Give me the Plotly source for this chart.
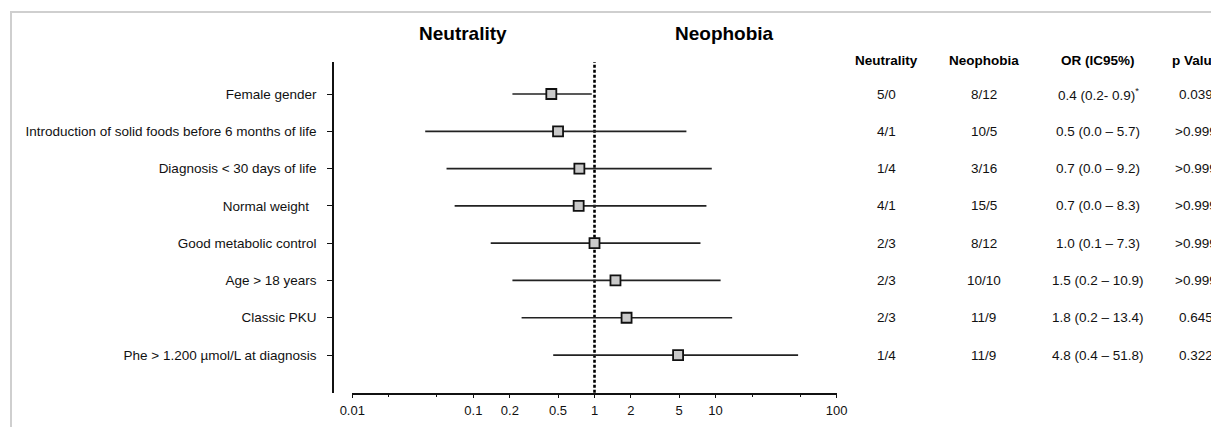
import plotly.graph_objects as go

# ---------------- data ----------------
labels = [
    "Female gender",
    "Introduction of solid foods before 6 months of life",
    "Diagnosis < 30 days of life",
    "Normal weight  ",
    "Good metabolic control",
    "Age > 18 years",
    "Classic PKU",
    "Phe > 1.200 µmol/L at diagnosis",
]
or_vals = [0.44, 0.50, 0.75, 0.74, 1.00, 1.49, 1.84, 4.9]
ci_low = [0.21, 0.040, 0.060, 0.070, 0.139, 0.21, 0.25, 0.456]
ci_high = [0.95, 5.74, 9.3, 8.4, 7.5, 11.0, 13.7, 48.0]

neutrality_counts = ["5/0", "4/1", "1/4", "4/1", "2/3", "2/3", "2/3", "1/4"]
neophobia_counts = ["8/12", "10/5", "3/16", "15/5", "8/12", "10/10", "11/9", "11/9"]
or_text = [
    "0.4 (0.2- 0.9)<sup>*</sup>",
    "0.5 (0.0 – 5.7)",
    "0.7 (0.0 – 9.2)",
    "0.7 (0.0 – 8.3)",
    "1.0 (0.1 – 7.3)",
    "1.5 (0.2 – 10.9)",
    "1.8 (0.2 – 13.4)",
    "4.8 (0.4 – 51.8)",
]
p_values = ["0.039", ">0.999", ">0.999", ">0.999", ">0.999", ">0.999", "0.645", "0.322"]

table_headers = ["Neutrality", "Neophobia", "OR (IC95%)", "p Value"]
side_headers = ["Neutrality", "Neophobia"]

x_tickvals = [0.01, 0.1, 0.2, 0.5, 1, 2, 5, 10, 100]
x_ticktext = ["0.01", "0.1", "0.2", "0.5", "1", "2", "5", "10", "100"]
x_minor = [0.02, 0.05, 20, 50]

# ---------------- layout constants ----------------
# the page body has an 8px margin, so the figure is placed 8px in from the
# window's top-left corner; positions below are window pixels.
OFF = 8
W, H = 1219 - OFF, 427 - OFF
FONT = "Liberation Sans, Arial, Helvetica, sans-serif"
px = lambda v: (v - OFF) / W
py = lambda v: 1 - (v - OFF) / H

fig = go.Figure()

# CI lines
cx, cy = [], []
for lab, lo, hi in zip(labels, ci_low, ci_high):
    cx += [lo, hi, None]
    cy += [lab, lab, None]
fig.add_trace(go.Scatter(x=cx, y=cy, mode="lines",
                         line=dict(color="#222222", width=1.7),
                         hoverinfo="skip", showlegend=False))

# point estimates
fig.add_trace(go.Scatter(x=or_vals, y=labels, mode="markers",
                         marker=dict(symbol="square", size=10, color="#c9c9c9",
                                     line=dict(color="#111111", width=1.8)),
                         showlegend=False))

# dotted reference line at OR = 1
fig.add_shape(type="line", xref="x", yref="y domain", x0=1, x1=1, y0=0, y1=1,
              line=dict(color="#000000", width=2.6, dash="3px,2px"), layer="below")

# frame
fig.add_shape(type="rect", xref="paper", yref="paper",
              x0=px(11), x1=1.05, y0=-0.05, y1=py(12),
              line=dict(color="#cfcfcf", width=2), fillcolor="rgba(0,0,0,0)")

# side headers
for txt, xc in zip(side_headers, [463, 724]):
    fig.add_annotation(x=px(xc), y=py(33), xref="paper", yref="paper", text=f"<b>{txt}</b>",
                       showarrow=False, xanchor="center", yanchor="middle",
                       font=dict(family=FONT, size=19, color="#000000"))

# table
col_x = [886, 984, 1098, 1196]
for txt, xc in zip(table_headers, col_x):
    fig.add_annotation(x=px(xc), y=py(61), xref="paper", yref="paper", text=f"<b>{txt}</b>",
                       showarrow=False, xanchor="center", yanchor="middle",
                       font=dict(family=FONT, size=13.5, color="#000000"))
for col, xc in zip([neutrality_counts, neophobia_counts, or_text, p_values], col_x):
    for lab, txt in zip(labels, col):
        fig.add_annotation(x=px(xc), y=lab, xref="paper", yref="y", text=txt,
                           showarrow=False, xanchor="center", yanchor="middle",
                           font=dict(family=FONT, size=13.5, color="#111111"))

fig.update_layout(
    width=W, height=H,
    margin=dict(l=0, r=0, t=0, b=0, autoexpand=False),
    paper_bgcolor="white", plot_bgcolor="white",
    font=dict(family=FONT, size=13, color="#111111"),
    xaxis=dict(type="log", range=[-2, 2], domain=[px(352.3), px(836.7)],
               showline=True, linecolor="#111111", linewidth=1.7,
               ticks="outside", ticklen=3, tickwidth=1.4, tickcolor="#111111",
               tickvals=x_tickvals, ticktext=x_ticktext, ticklabelstandoff=2,
               minor=dict(tickvals=x_minor, ticks="outside", ticklen=2,
                          tickwidth=1.2, tickcolor="#111111"),
               showgrid=False, zeroline=False, anchor="y",
               tickfont=dict(family=FONT, size=13, color="#111111")),
    yaxis=dict(type="category", categoryarray=labels, categoryorder="array",
               range=[8.01, -0.858], domain=[py(392.7), py(62)],
               anchor="free", position=px(333.3),
               showline=True, linecolor="#111111", linewidth=2,
               ticks="outside", ticklen=5, tickwidth=1.4, tickcolor="#111111",
               ticklabelstandoff=8,
               showgrid=False, zeroline=False,
               tickfont=dict(family=FONT, size=13.5, color="#111111")),
)

fig.write_html("out.html", config={"displayModeBar": False})
